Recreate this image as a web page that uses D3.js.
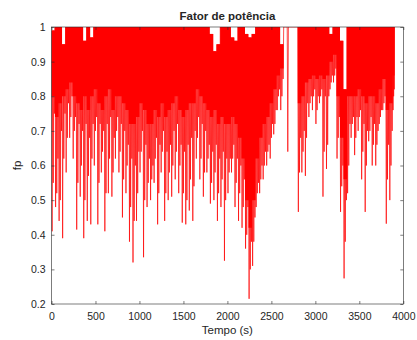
<!DOCTYPE html>
<html>
<head>
<meta charset="utf-8">
<script src="https://cdn.jsdelivr.net/npm/d3@7"></script>
<style>
  body { margin: 0; background: #fff; }
  svg text { font-family: "Liberation Sans", Arial, sans-serif; fill: #262626; }
</style>
</head>
<body>
<div id="chart"></div>
<script>
// buckets of 40 s
var passo = 40;
// deepest spike in each bucket
var fpMin = [0.41, 0.48, 0.44, 0.39, 0.58, 0.68, 0.62, 0.415, 0.51, 0.39,
             0.44, 0.43, 0.60, 0.43, 0.58, 0.41, 0.52, 0.51, 0.62, 0.58,
             0.45, 0.52, 0.38, 0.32, 0.44, 0.58, 0.335, 0.48, 0.50, 0.55,
             0.43, 0.58, 0.44, 0.50, 0.51, 0.56, 0.52, 0.435, 0.43, 0.47,
             0.44, 0.62, 0.56, 0.51, 0.58, 0.49, 0.50, 0.44, 0.48, 0.325,
             0.52, 0.58, 0.48, 0.44, 0.42, 0.36, 0.215, 0.31, 0.48, 0.52,
             0.56, 0.60, 0.62, 0.69, 0.76, 0.76, 1, 0.64, 1, 1,
             0.466, 0.58, 0.57, 0.74, 0.76, 0.72, 0.78, 0.51, 0.59, 0.82,
             0.84, 0.62, 0.466, 0.274, 0.52, 0.68, 0.63, 0.70, 0.56, 0.466,
             0.67, 0.60, 0.60, 0.72, 0.76, 0.432, 0.50, 0.76];
// second spike in each bucket
var fpMin2 = [0.55, 0.52, 0.50, 0.62, 0.68, 0.74, 0.70, 0.55, 0.60, 0.50,
              0.57, 0.62, 0.70, 0.55, 0.64, 0.52, 0.62, 0.58, 0.70, 0.64,
              0.56, 0.60, 0.48, 0.44, 0.52, 0.64, 0.50, 0.55, 0.56, 0.62,
              0.52, 0.64, 0.52, 0.58, 0.60, 0.64, 0.60, 0.52, 0.50, 0.56,
              0.54, 0.68, 0.62, 0.58, 0.62, 0.55, 0.58, 0.52, 0.56, 0.50,
              0.58, 0.62, 0.55, 0.52, 0.48, 0.40, 0.30, 0.38, 0.52, 0.56,
              0.60, 0.64, 0.68, 0.72, 0.80, 0.80, 1, 1, 1, 1,
              0.58, 0.64, 0.68, 0.78, 0.80, 0.76, 0.80, 0.64, 0.66, 0.84,
              0.86, 0.68, 0.54, 0.38, 0.60, 0.72, 0.68, 0.74, 0.64, 0.60,
              0.70, 0.66, 0.66, 0.74, 0.78, 0.56, 0.60, 0.80];
// third, shallower dip
var fpMeio = [0.75, 0.62, 0.70, 0.75, 0.78, 0.80, 0.74, 0.72, 0.70, 0.72,
              0.68, 0.72, 0.74, 0.72, 0.70, 0.72, 0.74, 0.68, 0.74, 0.72,
              0.70, 0.66, 0.62, 0.60, 0.64, 0.70, 0.66, 0.62, 0.60, 0.68,
              0.66, 0.70, 0.64, 0.66, 0.70, 0.72, 0.66, 0.64, 0.66, 0.68,
              0.70, 0.74, 0.72, 0.70, 0.66, 0.64, 0.66, 0.62, 0.64, 0.62,
              0.62, 0.66, 0.62, 0.60, 0.56, 0.48, 0.38, 0.45, 0.55, 0.60,
              0.64, 0.66, 0.72, 0.76, 0.82, 0.85, 1, 1, 1, 1,
              0.68, 0.70, 0.78, 0.80, 0.82, 0.80, 0.82, 0.80, 0.80, 0.86,
              0.88, 0.74, 0.60, 0.50, 0.72, 0.74, 0.74, 0.76, 0.72, 0.70,
              0.74, 0.72, 0.70, 0.76, 0.80, 0.66, 0.70, 0.82];
// lower edge of the solid red band
var fpBanda = [0.80, 0.74, 0.78, 0.80, 0.82, 0.84, 0.80, 0.78, 0.76, 0.80,
               0.76, 0.80, 0.82, 0.78, 0.76, 0.80, 0.82, 0.76, 0.80, 0.80,
               0.78, 0.76, 0.72, 0.72, 0.74, 0.78, 0.76, 0.72, 0.72, 0.76,
               0.74, 0.78, 0.74, 0.76, 0.78, 0.80, 0.76, 0.74, 0.76, 0.78,
               0.78, 0.82, 0.80, 0.78, 0.76, 0.74, 0.76, 0.72, 0.74, 0.72,
               0.72, 0.74, 0.72, 0.68, 0.62, 0.50, 0.42, 0.50, 0.62, 0.68,
               0.72, 0.74, 0.78, 0.82, 0.86, 0.88, 1, 1, 1, 1,
               0.78, 0.80, 0.84, 0.85, 0.86, 0.85, 0.86, 0.85, 0.86, 0.90,
               0.92, 0.80, 0.68, 0.56, 0.80, 0.80, 0.80, 0.82, 0.80, 0.78,
               0.80, 0.80, 0.78, 0.82, 0.85, 0.76, 0.78, 0.86];
// top of each bucket
var fpMax = [0.99, 1, 1, 0.95, 1, 1, 1, 1, 1, 0.96,
             1, 0.97, 1, 1, 1, 1, 1, 1, 1, 1,
             1, 1, 1, 1, 1, 1, 1, 1, 1, 1,
             1, 1, 1, 1, 1, 1, 1, 1, 1, 1,
             1, 1, 1, 1, 1, 0.98, 0.93, 0.95, 1, 1,
             1, 0.97, 0.96, 1, 1, 0.98, 0.97, 0.98, 1, 1,
             1, 1, 1, 1, 1, 0.95, 1, 1, 1, 1,
             1, 1, 1, 1, 1, 1, 1, 1, 1, 0.98,
             1, 1, 0.96, 0.82, 1, 1, 1, 1, 1, 1,
             1, 1, 1, 1, 1, 1, 1, 1];
var xTicks = [0, 500, 1000, 1500, 2000, 2500, 3000, 3500, 4000];
var yTicks = [0.2, 0.3, 0.4, 0.5, 0.6, 0.7, 0.8, 0.9, 1];

var W = 417, H = 340;
var margin = { top: 27, right: 14, bottom: 36, left: 51.5 };
var w = 403.3 - margin.left;
var h = 304 - margin.top;
var tFim = 3900;

var svg = d3.select("#chart").append("svg")
    .attr("width", W).attr("height", H);
var g = svg.append("g")
    .attr("transform", "translate(" + margin.left + "," + margin.top + ")");

var x = d3.scaleLinear().domain([0, 4000]).range([0, w]);
var y = d3.scaleLinear().domain([0.2, 1]).range([h, 0]);

// solid band per bucket (step area) and a zigzag for the spikes
var faixa = fpBanda.map(function(d, i) {
    return { t: i * passo, lo: d, hi: fpMax[i] };
});
faixa.push({ t: tFim, lo: fpBanda[fpBanda.length - 1], hi: fpMax[fpMax.length - 1] });

var pontos = [];
fpMin.forEach(function(d, i) {
    var t0 = i * passo;
    var q = (Math.min(tFim, t0 + passo) - t0) / 6;
    pontos.push([t0, fpMax[i]]);
    pontos.push([t0 + q, d]);
    pontos.push([t0 + 2 * q, fpMax[i]]);
    pontos.push([t0 + 3 * q, fpMin2[i]]);
    pontos.push([t0 + 4 * q, fpMax[i]]);
    pontos.push([t0 + 5 * q, fpMeio[i]]);
});
pontos.push([tFim, fpMax[fpMax.length - 1]]);

g.append("clipPath").attr("id", "clip")
  .append("rect").attr("width", w).attr("height", h);

var area = d3.area()
    .x(function(d) { return x(d.t); })
    .y0(function(d) { return y(d.lo); })
    .y1(function(d) { return y(d.hi); })
    .curve(d3.curveStepAfter);

g.append("path")
    .datum(faixa)
    .attr("clip-path", "url(#clip)")
    .attr("d", area)
    .attr("fill", "#ff0000");

var linha = d3.line()
    .x(function(d) { return x(d[0]); })
    .y(function(d) { return y(d[1]); });

g.append("path")
    .datum(pontos)
    .attr("clip-path", "url(#clip)")
    .attr("d", linha)
    .attr("fill", "none")
    .attr("stroke", "#ff0000")
    .attr("stroke-width", 0.7);

// axes, MATLAB style: ticks inside, box around
var cor = "#262626";
function estilo(sel) {
    sel.select(".domain").remove();
    sel.selectAll("line").attr("stroke", cor).attr("stroke-width", 0.6);
    sel.selectAll("text").style("font-size", "10.5px").attr("fill", cor);
}

g.append("g")
    .attr("transform", "translate(0," + h + ")")
    .call(d3.axisBottom(x).tickValues(xTicks).tickSize(-3).tickPadding(9)
        .tickFormat(d3.format("d")))
    .call(estilo);
g.append("g")
    .call(d3.axisLeft(y).tickValues(yTicks).tickSize(-3).tickPadding(6)
        .tickFormat(function(d) { return d === 1 ? "1" : d3.format(".1f")(d); }))
    .call(estilo);
g.append("g")
    .attr("transform", "translate(" + w + ",0)")
    .call(d3.axisRight(y).tickValues(yTicks).tickSize(-3).tickFormat(""))
    .call(estilo);
g.append("g")
    .call(d3.axisTop(x).tickValues(xTicks).tickSize(-3).tickFormat(""))
    .call(estilo);

g.append("rect")
    .attr("width", w).attr("height", h)
    .attr("fill", "none").attr("stroke", cor).attr("stroke-width", 0.6);

svg.append("text")
    .attr("x", margin.left + w / 2).attr("y", 20)
    .attr("text-anchor", "middle")
    .style("font-size", "11.5px").style("font-weight", "bold")
    .attr("fill", "#000")
    .text("Fator de potência");

svg.append("text")
    .attr("x", margin.left + w / 2).attr("y", 334)
    .attr("text-anchor", "middle")
    .style("font-size", "11.5px")
    .text("Tempo (s)");

svg.append("text")
    .attr("transform", "translate(21," + (margin.top + h / 2) + ") rotate(-90)")
    .attr("text-anchor", "middle")
    .style("font-size", "11.5px")
    .text("fp");
</script>
</body>
</html>
